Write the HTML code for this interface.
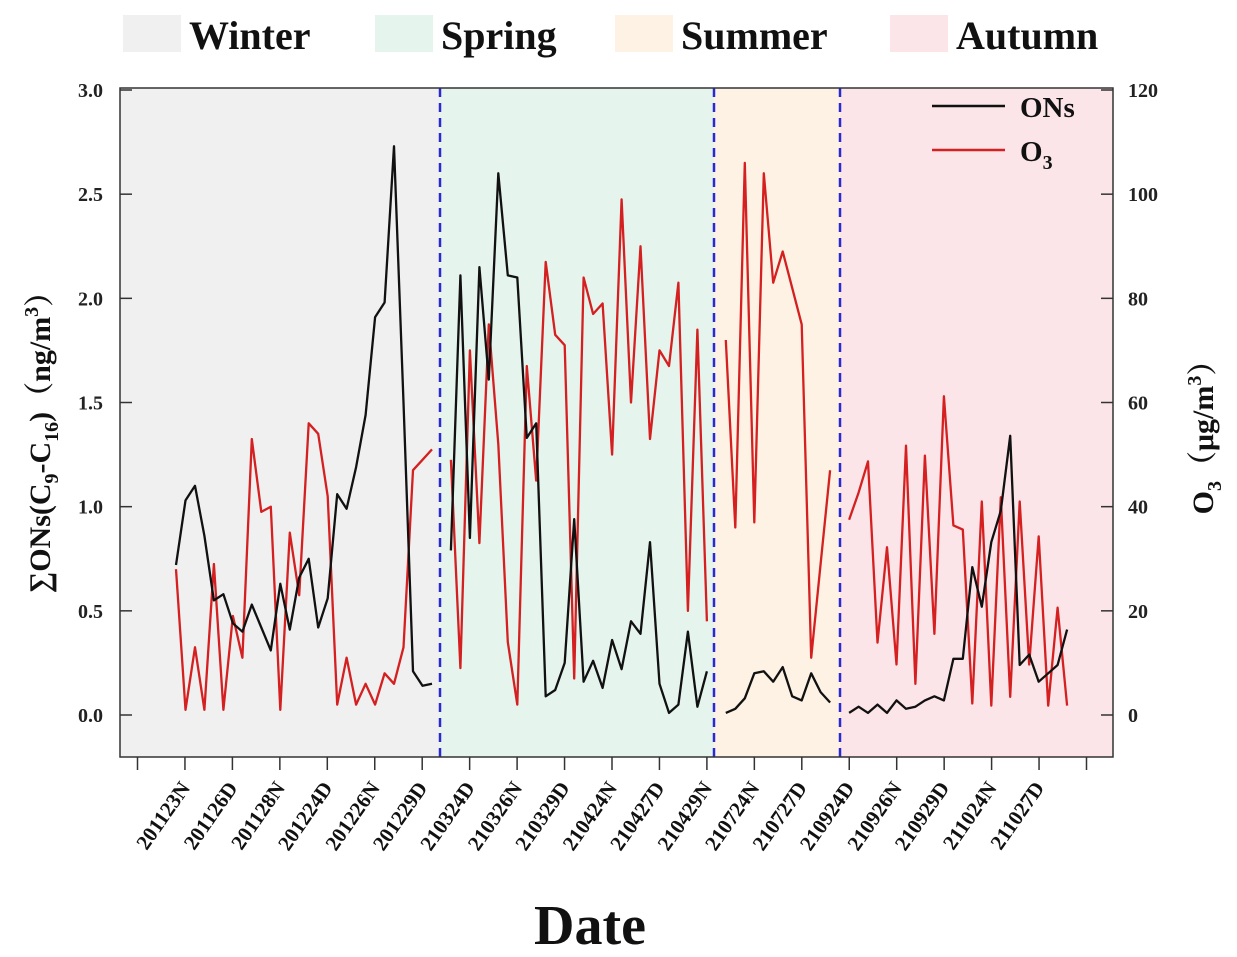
<!DOCTYPE html>
<html><head><meta charset="utf-8"><style>
html,body{margin:0;padding:0;background:#fff;}
svg{display:block;font-family:"Liberation Serif","Noto Serif CJK SC",serif;}
</style></head><body>
<svg id="chart" width="1237" height="957" viewBox="0 0 1237 957" xmlns="http://www.w3.org/2000/svg">
<g id="bg"></g>
<g id="axes"></g>
<g id="series"></g>
<g id="legends"></g>
</svg>
<script>
// ---- data ----
const seasonNames = ["Winter","Spring","Summer","Autumn"];
const seasonStart = [0, 29, 58, 71];
const onsWinter = [0.72,1.03,1.10,0.86,0.55,0.58,0.44,0.40,0.53,0.42,0.31,0.63,0.41,0.66,0.75,0.42,0.56,1.06,0.99,1.19,1.44,1.91,1.98,2.73,1.50,0.21,0.14,0.15];
const o3Winter = [28,1,13,1,29,1,19,11,53,39,40,1,35,23,56,54,42,2,11,2,6,2,8,6,13,47,49,51];
const onsSpring = [0.79,2.11,0.85,2.15,1.61,2.60,2.11,2.10,1.33,1.40,0.09,0.12,0.25,0.94,0.16,0.26,0.13,0.36,0.22,0.45,0.39,0.83,0.15,0.01,0.05,0.40,0.04,0.21];
const o3Spring = [49,9,70,33,75,52,14,2,67,45,87,73,71,7,84,77,79,50,99,60,90,53,70,67,83,20,74,18];
const onsSummer = [0.01,0.03,0.08,0.20,0.21,0.16,0.23,0.09,0.07,0.20,0.11,0.06];
const o3Summer = [72,36,106,37,104,83,89,82,75,11,29,47];
const onsAutumn = [0.01,0.04,0.01,0.05,0.01,0.07,0.03,0.04,0.07,0.09,0.07,0.27,0.27,0.71,0.52,0.83,0.98,1.34,0.24,0.29,0.16,0.20,0.24,0.41];
const o3Autumn = [37.5,42.7,48.7,13.9,32.2,9.7,51.7,6,49.8,15.6,61.2,36.4,35.6,2.2,41,1.8,41.8,3.5,41,9.7,34.3,1.8,20.6,1.8];
const leftTicks = [0.0,0.5,1.0,1.5,2.0,2.5,3.0];
const rightTicks = [0,20,40,60,80,100,120];
const dateLabels = ["201123N","201126D","201128N","201224D","201226N","201229D","210324D","210326N","210329D","210424N","210427D","210429N","210724N","210727D","210924D","210926N","210929D","211024N","211027D"];

// ---- scales ----
const PL=120, PR=1113, PT=88, PB=757;
const yL = v => 715 - v*208.33;
const yR = v => 715 - v*5.2083;
const xI = i => 176 + i*9.48;
const xTick = k => 137.5 + k*47.45;
const NS="http://www.w3.org/2000/svg";
function mk(tag, attrs, parent, text){
  const e=document.createElementNS(NS,tag);
  for(const k in attrs) e.setAttribute(k, attrs[k]);
  if(text!==undefined) e.textContent=text;
  parent.appendChild(e); return e;
}
const bg=document.getElementById('bg'), axes=document.getElementById('axes'),
      series=document.getElementById('series'), legends=document.getElementById('legends');

const bounds=[PL,440,714,840,PR];
const fills=["#f0f0f0","#e6f4ee","#fdf2e4","#fbe5e8"];
for(let s=0;s<4;s++){
  const r=mk('rect',{x:bounds[s],y:PT,width:bounds[s+1]-bounds[s],height:PB-PT,fill:fills[s]},bg);
  
  
}
for(let s=1;s<4;s++){
  const l=mk('line',{x1:bounds[s],x2:bounds[s],y1:PT,y2:PB,stroke:"#2a2ad0","stroke-width":2.5,"stroke-dasharray":"9,6"},bg);
  
  
}
const fr=mk('rect',{x:PL,y:PT,width:PR-PL,height:PB-PT,fill:"none",stroke:"#333","stroke-width":1.5},axes);



leftTicks.forEach(v=>{
  const y=yL(v);
  mk('line',{x1:PL,x2:PL+12,y1:y,y2:y,stroke:"#333","stroke-width":1.5},axes);
  const t=mk('text',{x:103,y:y+7,"text-anchor":"end","font-size":20,"font-weight":"bold",fill:"#222"},axes,v.toFixed(1));
  
  
});
rightTicks.forEach(v=>{
  const y=yR(v);
  mk('line',{x1:PR-12,x2:PR,y1:y,y2:y,stroke:"#333","stroke-width":1.5},axes);
  const t=mk('text',{x:1128,y:y+7,"text-anchor":"start","font-size":20,"font-weight":"bold",fill:"#222"},axes,String(v));
  
  
});
for(let k=0;k<21;k++){
  mk('line',{x1:xTick(k),x2:xTick(k),y1:PB,y2:PB+13,stroke:"#333","stroke-width":1.5},axes);
}
dateLabels.forEach((d,k)=>{
  const x=xTick(k+1)+6, y=788;
  const t=mk('text',{x:x,y:y,"text-anchor":"end","font-size":21,"font-weight":"bold",fill:"#111",transform:`rotate(-55 ${x} ${y})`},axes,d);
  
  
});
const xt=mk('text',{x:590,y:944,"text-anchor":"middle","font-size":56,"font-weight":"bold",fill:"#111"},axes,"Date");


const lt=mk('text',{x:0,y:0,"text-anchor":"middle","font-size":30,"font-weight":"bold",fill:"#111",transform:"translate(50,435) rotate(-90)"},axes);


lt.innerHTML='∑ONs(C<tspan font-size="20" dy="8">9</tspan><tspan dy="-8">-C</tspan><tspan font-size="20" dy="8">16</tspan><tspan dy="-8">)（ng/m</tspan><tspan font-size="20" dy="-12">3</tspan><tspan dy="12">）</tspan>';
const rt=mk('text',{x:0,y:0,"text-anchor":"middle","font-size":30,"font-weight":"bold",fill:"#111",transform:"translate(1213,430) rotate(-90)"},axes);


rt.innerHTML='O<tspan font-size="20" dy="8">3</tspan><tspan dy="-8">（μg/m</tspan><tspan font-size="20" dy="-12">3</tspan><tspan dy="12">）</tspan>';

const onsSets=[onsWinter,onsSpring,onsSummer,onsAutumn];
const o3Sets=[o3Winter,o3Spring,o3Summer,o3Autumn];
for(let s=0;s<4;s++){
  const po=o3Sets[s].map((v,i)=>xI(seasonStart[s]+i).toFixed(1)+","+yR(v).toFixed(1)).join(" ");
  const p1=mk('polyline',{points:po,fill:"none",stroke:"#d42020","stroke-width":2.3,"stroke-linejoin":"round"},series);
  
  
  const pn=onsSets[s].map((v,i)=>xI(seasonStart[s]+i).toFixed(1)+","+yL(v).toFixed(1)).join(" ");
  const p2=mk('polyline',{points:pn,fill:"none",stroke:"#111","stroke-width":2.3,"stroke-linejoin":"round"},series);
  
  
}

const lx=[123,375,615,890];
for(let s=0;s<4;s++){
  const r=mk('rect',{x:lx[s],y:15,width:58,height:37,fill:fills[s]},legends);
  
  
  const t=mk('text',{x:lx[s]+66,y:49,"font-size":40,"font-weight":"bold",fill:"#111"},legends,seasonNames[s]);
  
  
}
const l1=mk('line',{x1:932,x2:1005,y1:106,y2:106,stroke:"#111","stroke-width":2.5},legends);


const t1=mk('text',{x:1020,y:117,"font-size":29,"font-weight":"bold",fill:"#111"},legends,"ONs");


const l2=mk('line',{x1:932,x2:1005,y1:150,y2:150,stroke:"#d42020","stroke-width":2.5},legends);


const t2=mk('text',{x:1020,y:161,"font-size":29,"font-weight":"bold",fill:"#111"},legends);


t2.innerHTML='O<tspan font-size="20" dy="8">3</tspan>';
</script>
</body></html>
